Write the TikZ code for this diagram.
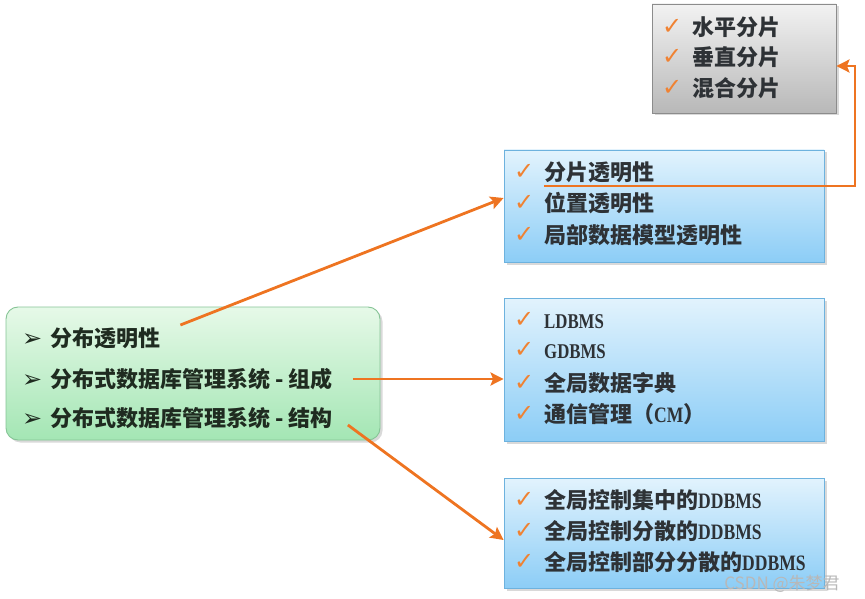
\documentclass[tikz,border=0pt]{standalone}
\usepackage{fontspec}
\setmainfont{Noto Sans CJK SC}
\newfontfamily\symfont{DejaVu Sans}
\newfontfamily\latfont[FakeStretch=0.8]{Liberation Serif}
\usetikzlibrary{shadows,arrows.meta}

\definecolor{linkor}{HTML}{EE7421}
\definecolor{tickor}{HTML}{F08232}
\definecolor{txtgray}{HTML}{2E3236}
\definecolor{txtgreen}{HTML}{1F2B20}
\definecolor{bluetop}{HTML}{E2F3FD}
\definecolor{bluebot}{HTML}{8CCDF6}
\definecolor{blueline}{HTML}{6DB2DE}
\definecolor{greentop}{HTML}{E6F9E8}
\definecolor{greenbot}{HTML}{A4E6B4}
\definecolor{greenline}{HTML}{86C496}
\definecolor{greytop}{HTML}{F2F2F2}
\definecolor{greybot}{HTML}{B8B8B8}

\newcommand{\tick}{\makebox[30pt][l]{\raisebox{1pt}{\fontsize{24}{24}\symfont\color{tickor}✓}}}
\newcommand{\pointer}{\makebox[28pt][l]{\fontsize{24}{24}\symfont\color{txtgreen}➢}}
\newcommand{\lat}[1]{{\latfont\bfseries #1}}

\tikzset{
  panel/.style={draw, line width=0.9pt, inner sep=0pt,
    drop shadow={opacity=0.3, shadow xshift=2.5pt, shadow yshift=-2.5pt}},
  greybox/.style={panel, draw=black!45, top color=greytop, bottom color=greybot},
  bluebox/.style={panel, draw=blueline, top color=bluetop,
    bottom color=bluebot, minimum width=320pt},
  greenbox/.style={panel, rounded corners=12pt, draw=greenline,
    top color=greentop, bottom color=greenbot},
  item/.style={anchor=west, inner sep=0pt, text=txtgray,
    font=\bfseries\fontsize{22}{22}\selectfont},
  gitem/.style={item, text=txtgreen},
  link/.style={->, draw=linkor, line width=2.8pt},
  wmark/.style={inner sep=0pt, text=black!28, font=\fontsize{17}{17}\selectfont}
}

\begin{document}
\begin{tikzpicture}[x=1pt,y=-1pt,>={Stealth[length=13pt,width=13pt,inset=2.5pt]}]
  \useasboundingbox (0,0) rectangle (865,599);

  % boxes
  \node[greybox,minimum width=184pt,minimum height=109pt] (frag) at (744,58.5) {};
  \node[bluebox,minimum height=112pt] (trans) at (664,206) {};
  \node[bluebox,minimum height=143pt] (parts) at (664,369.5) {};
  \node[bluebox,minimum height=110pt] (arch) at (664,533) {};
  \node[greenbox,minimum width=374pt,minimum height=133pt] (main) at (193,373.5) {};

  % fragment kinds
  \node[item] (frag1) at (662,27) {\tick 水平分片};
  \node[item] (frag2) at (662,57) {\tick 垂直分片};
  \node[item] (frag3) at (662,88) {\tick 混合分片};

  % transparency
  \node[item] (trans1) at (514,172) {\tick 分片透明性};
  \node[item] (trans2) at (514,203) {\tick 位置透明性};
  \node[item] (trans3) at (514,235) {\tick 局部数据模型透明性};

  % components
  \node[item] (parts1) at (514,321) {\tick \lat{\fontsize{21}{21}\selectfont LDBMS}};
  \node[item] (parts2) at (514,351) {\tick \lat{\fontsize{21}{21}\selectfont GDBMS}};
  \node[item] (parts3) at (514,383) {\tick 全局数据字典};
  \node[item] (parts4) at (514,414) {\tick 通信管理（\lat{CM}）};

  % architectures
  \node[item] (arch1) at (514,500) {\tick 全局控制集中的\lat{DDBMS}};
  \node[item] (arch2) at (514,531) {\tick 全局控制分散的\lat{DDBMS}};
  \node[item] (arch3) at (514,562) {\tick 全局控制部分分散的\lat{DDBMS}};

  % main topics
  \node[gitem] (main1) at (22,338) {\pointer 分布透明性};
  \node[gitem] (main2) at (22,379) {\pointer 分布式数据库管理系统 - 组成};
  \node[gitem] (main3) at (22,418) {\pointer 分布式数据库管理系统 - 结构};

  \node[wmark] (wm) at (782,584) {CSDN @朱梦君};

  % connectors
  \draw[link] ([xshift=20pt,yshift=13pt]main1.east) -- ([yshift=8pt]trans.west);
  \draw[link] ([xshift=20pt]main2.east) -- (trans.west |- main2);
  \draw[link] ([xshift=15pt,yshift=-7pt]main3.east) -- ([yshift=-7pt]arch.west);
  \coordinate (bend) at (855,66);
  \draw[link] ([xshift=30pt,yshift=-14pt]trans1.west) -| (bend) -- (frag.east |- bend);
\end{tikzpicture}
\end{document}
